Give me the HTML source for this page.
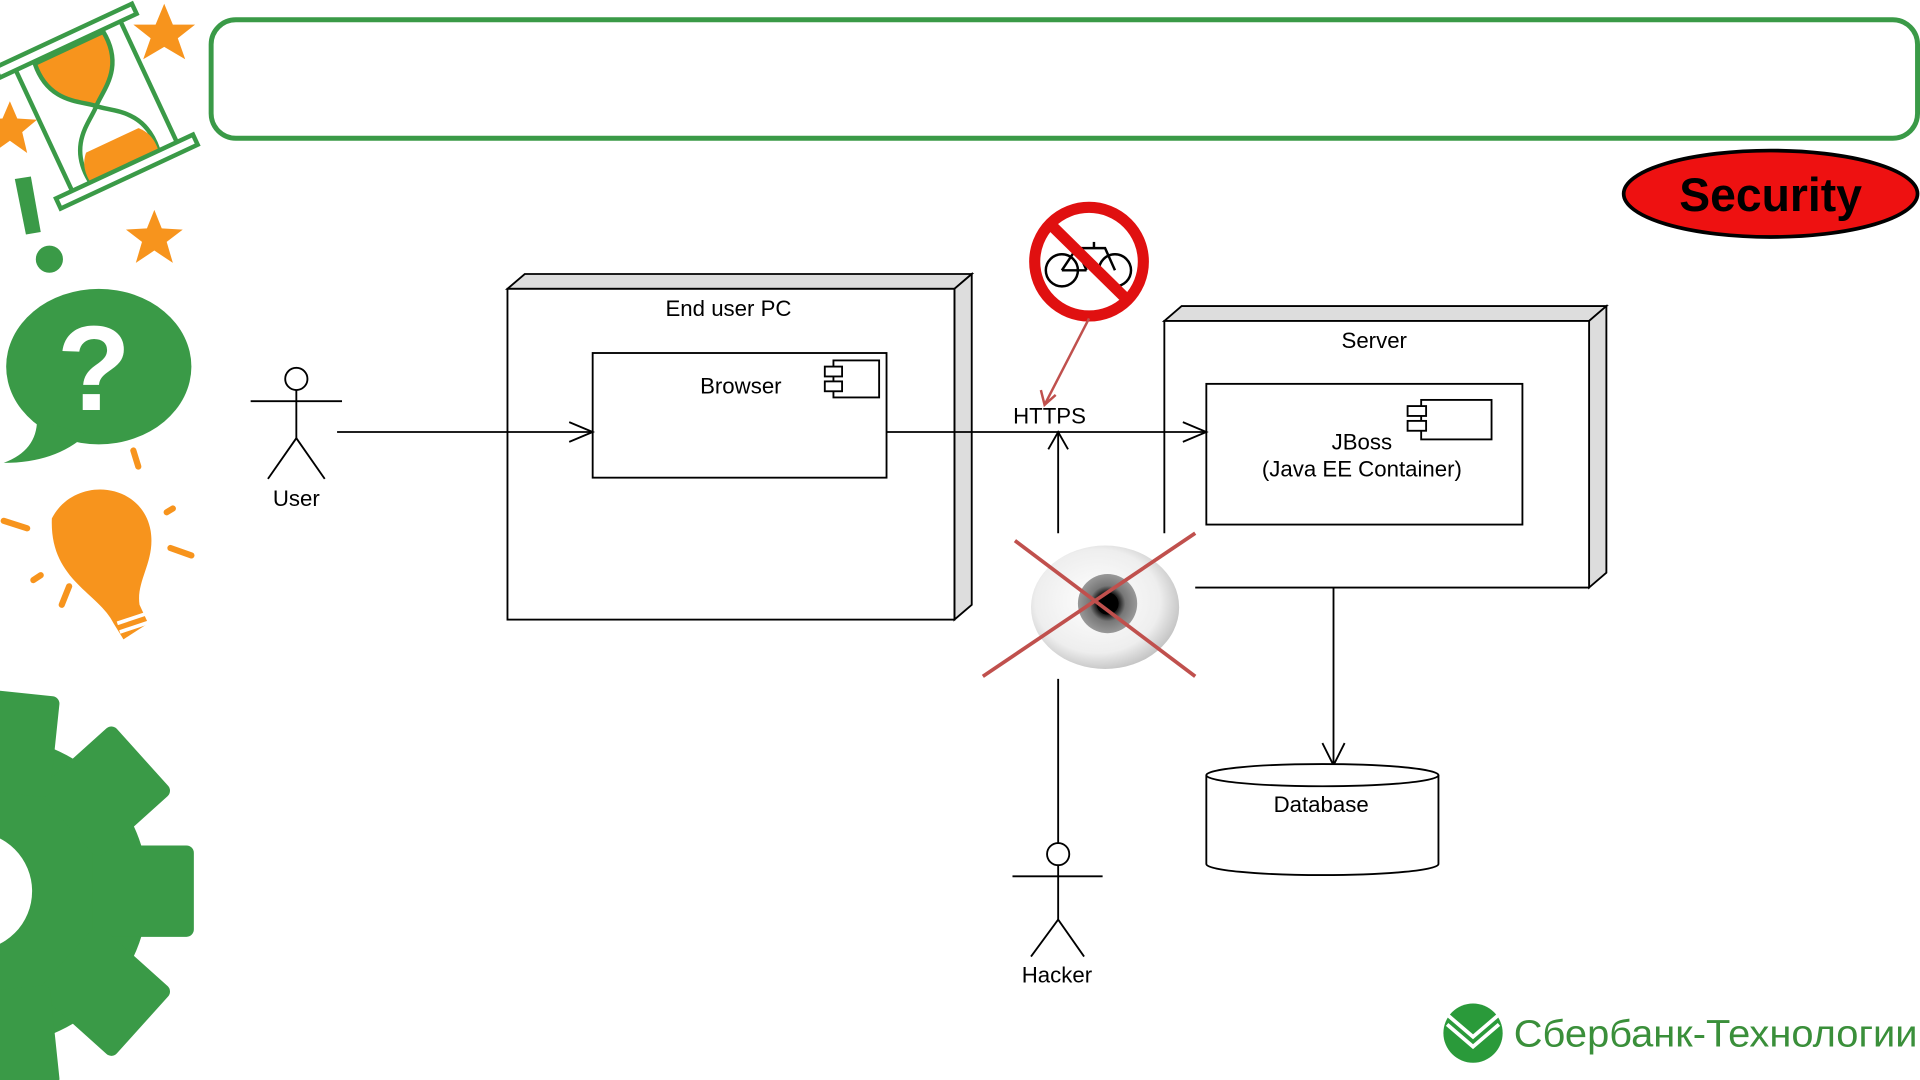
<!DOCTYPE html>
<html><head><meta charset="utf-8"><style>
html,body{margin:0;padding:0;background:#fff;width:1920px;height:1080px;overflow:hidden}
svg{display:block}
text{font-family:"Liberation Sans",sans-serif}
</style></head><body>
<svg width="1920" height="1080" viewBox="0 0 1555 875" preserveAspectRatio="none" xmlns="http://www.w3.org/2000/svg">
<defs>
<radialGradient id="eye" cx="0.45" cy="0.45" r="0.6"><stop offset="0" stop-color="#fff"/><stop offset="0.7" stop-color="#eee"/><stop offset="1" stop-color="#bbb"/></radialGradient>
<radialGradient id="iris" cx="0.5" cy="0.5" r="0.5"><stop offset="0" stop-color="#000"/><stop offset="0.4" stop-color="#222"/><stop offset="0.6" stop-color="#777"/><stop offset="1" stop-color="#999"/></radialGradient>
</defs>
<g fill="#f7941d">
<polygon points="133,3 140,20 158,20 144,31 150,48 133,38 116,48 122,31 108,20 126,20"/>
<polygon points="125,170 131,185 148,186 135,196 140,213 125,203 110,213 115,196 102,186 119,185"/>
<polygon points="8,82 14,96 30,97 18,107 22,124 8,114 -6,124 -2,107 -14,97 2,96"/>
</g>
<g transform="translate(78,86) rotate(-25) scale(0.9)">
<rect x="-68" y="-70" width="136" height="10" fill="#fff" stroke="#3a9a47" stroke-width="4"/>
<rect x="-68" y="60" width="136" height="10" fill="#fff" stroke="#3a9a47" stroke-width="4"/>
<line x1="-52" y1="-60" x2="-52" y2="60" stroke="#3a9a47" stroke-width="4"/>
<line x1="52" y1="-60" x2="52" y2="60" stroke="#3a9a47" stroke-width="4"/>
<path d="M-34,-58 L34,-58 C38,-20 10,-10 0,0 C-10,-10 -38,-20 -34,-58Z" fill="#f7941d" stroke="#3a9a47" stroke-width="4"/>
<path d="M-34,58 L34,58 C38,20 10,10 0,0 C-10,10 -38,20 -34,58Z" fill="#fff" stroke="#3a9a47" stroke-width="4"/>
<path d="M-34,58 L34,58 C35,45 30,38 26,34 L-26,34 C-30,38 -35,45 -34,58Z" fill="#f7941d"/>
</g>
<polygon points="12,145 25,143 33,188 21,190" fill="#3a9a47"/>
<circle cx="40" cy="210" r="11" fill="#3a9a47"/>
<ellipse cx="80" cy="297" rx="75" ry="63" fill="#3a9a47"/>
<path d="M30,340 Q30,365 3,375 Q45,375 70,352Z" fill="#3a9a47"/>
<text x="76" y="332" font-size="98" font-weight="bold" fill="#fff" text-anchor="middle">?</text>
<g stroke="#f7941d" stroke-width="5" stroke-linecap="round">
<line x1="108" y1="365" x2="112" y2="378"/><line x1="135" y1="415" x2="140" y2="412"/><line x1="138" y1="444" x2="155" y2="450"/>
<line x1="3" y1="422" x2="22" y2="428"/><line x1="27" y1="470" x2="33" y2="466"/><line x1="50" y1="490" x2="56" y2="475"/>
</g>
<path d="M42,420 C60,385 115,390 122,430 C126,455 110,470 113,490 L120,505 L100,518 L92,505 C80,480 40,470 42,420Z" fill="#f7941d"/>
<path d="M95,505 L125,495 M97,512 L127,502" stroke="#fff" stroke-width="3"/>
<g fill="#3a9a47">
<circle cx="-5" cy="722" r="125"/>
<g transform="translate(-5,722)">
<rect x="80" y="-37" width="82" height="74" rx="6"/>
<rect x="80" y="-37" width="82" height="74" rx="6" transform="rotate(-42)"/>
<rect x="80" y="-37" width="82" height="74" rx="6" transform="rotate(42)"/>
<rect x="80" y="-37" width="82" height="74" rx="6" transform="rotate(-84)"/>
<rect x="80" y="-37" width="82" height="74" rx="6" transform="rotate(84)"/>
</g>
</g>
<circle cx="-22" cy="722" r="48" fill="#fff"/>
<rect x="171" y="16" width="1382" height="96" rx="20" fill="#fff" stroke="#3a9a47" stroke-width="4"/>
<ellipse cx="1434" cy="157" rx="119" ry="35" fill="#ee1111" stroke="#000" stroke-width="3"/>
<text x="1434" y="171" font-size="38" font-weight="bold" text-anchor="middle" fill="#000" textLength="148" lengthAdjust="spacingAndGlyphs">Security</text>
<g stroke="#000" fill="none" stroke-width="1.5">
<polygon points="411,234 425,222 787,222 773,234" fill="#ddd"/>
<polygon points="773,234 787,222 787,490 773,502" fill="#ddd"/>
<rect x="411" y="234" width="362" height="268" fill="#fff"/>
<rect x="480" y="286" width="238" height="101" fill="#fff"/>
<rect x="675" y="292" width="37" height="30"/>
<rect x="668" y="297" width="14" height="8" fill="#fff"/>
<rect x="668" y="309" width="14" height="8" fill="#fff"/>
<polygon points="943,260 957,248 1301,248 1287,260" fill="#ddd"/>
<polygon points="1287,260 1301,248 1301,464 1287,476" fill="#ddd"/>
<path d="M943,432 L943,260 L1287,260 L1287,476 L968,476" fill="#fff"/>
<rect x="977" y="311" width="256" height="114" fill="#fff"/>
<rect x="1151" y="324" width="57" height="32"/>
<rect x="1140" y="329" width="15" height="8" fill="#fff"/>
<rect x="1140" y="341" width="15" height="8" fill="#fff"/>
<line x1="273" y1="350" x2="480" y2="350"/><polyline points="461,342 480,350 461,358"/>
<line x1="718" y1="350" x2="977" y2="350"/><polyline points="958,342 977,350 958,358"/>
<line x1="857" y1="350" x2="857" y2="432"/><polyline points="849,364 857,350 865,364"/>
<line x1="857" y1="550" x2="857" y2="683"/>
<line x1="1080" y1="476" x2="1080" y2="620"/><polyline points="1071,602 1080,620 1089,602"/>
<path d="M977,628 L977,700 A94,9 0 0 0 1165,700 L1165,628" fill="#fff"/>
<ellipse cx="1071" cy="628" rx="94" ry="9" fill="#fff"/>
<circle cx="240" cy="307" r="9"/>
<line x1="240" y1="316" x2="240" y2="355"/><line x1="203" y1="325" x2="277" y2="325"/>
<polyline points="217,388 240,355 263,388"/>
<circle cx="857" cy="692" r="9"/>
<line x1="857" y1="701" x2="857" y2="745"/><line x1="820" y1="710" x2="893" y2="710"/>
<polyline points="835,775 857,745 878,775"/>
</g>
<g font-size="18" fill="#000" text-anchor="middle">
<text x="590" y="256">End user PC</text>
<text x="600" y="319">Browser</text>
<text x="1113" y="282">Server</text>
<text x="1103" y="364">JBoss</text>
<text x="1103" y="386">(Java EE Container)</text>
<text x="850" y="343">HTTPS</text>
<text x="1070" y="658">Database</text>
<text x="240" y="410">User</text>
<text x="856" y="796">Hacker</text>
</g>
<circle cx="882" cy="212" r="44" fill="#fff" stroke="#e01010" stroke-width="9"/>
<g stroke="#000" stroke-width="2" fill="none">
<circle cx="860" cy="219" r="13"/><circle cx="903" cy="219" r="13"/>
<polyline points="860,219 872,201 895,201 903,219"/><line x1="872" y1="201" x2="880" y2="219"/><line x1="880" y1="219" x2="860" y2="219"/><line x1="886" y1="196" x2="886" y2="201"/>
</g>
<line x1="852" y1="183" x2="912" y2="242" stroke="#e01010" stroke-width="9"/>
<line x1="882" y1="258" x2="846" y2="328" stroke="#c0504d" stroke-width="2"/>
<polyline points="843,316 846,328 855,320" stroke="#c0504d" stroke-width="2" fill="none"/>
<ellipse cx="895" cy="492" rx="60" ry="50" fill="url(#eye)"/>
<circle cx="897" cy="489" r="24" fill="url(#iris)"/>
<circle cx="897" cy="489" r="9" fill="#000"/>
<line x1="796" y1="548" x2="968" y2="432" stroke="#c0504d" stroke-width="3"/>
<line x1="822" y1="438" x2="968" y2="548" stroke="#c0504d" stroke-width="3"/>
<circle cx="1193" cy="837" r="24" fill="#2a9a3a"/>
<path d="M1172,822 L1193,840 L1214,822 M1172,830 L1193,848 L1214,830" stroke="#fff" stroke-width="3" fill="none"/>
<text x="1226" y="848" font-size="31" fill="#3a8f3a" textLength="327" lengthAdjust="spacingAndGlyphs">Сбербанк-Технологии</text>
</svg>
</body></html>
